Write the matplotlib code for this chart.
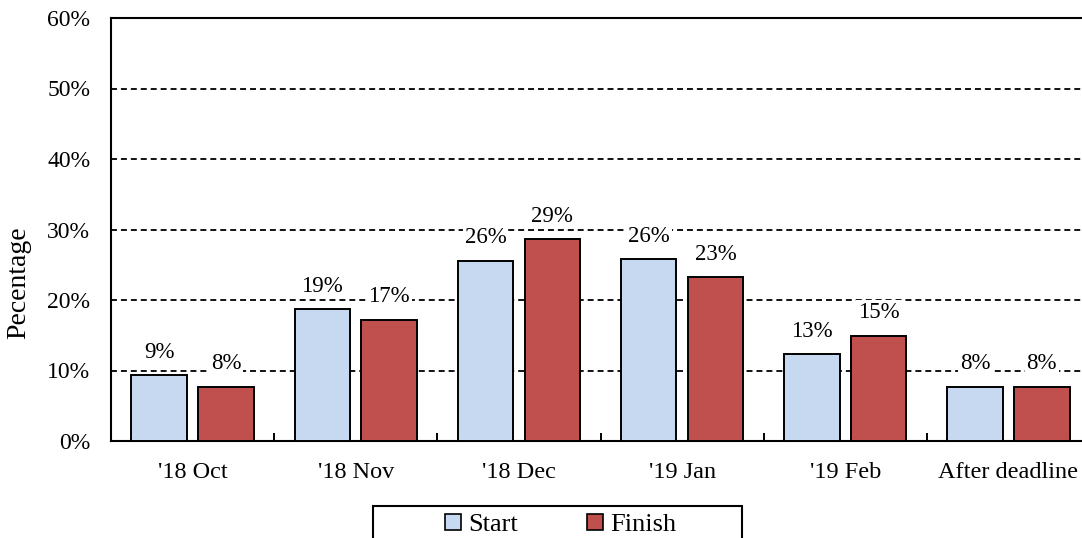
import matplotlib
matplotlib.use("Agg")
import matplotlib.pyplot as plt
from matplotlib.ticker import FuncFormatter, FixedLocator
from matplotlib.lines import Line2D
from matplotlib.patches import Rectangle
import numpy as np

categories = ["'18 Oct", "'18 Nov", "'18 Dec", "'19 Jan", "'19 Feb", "After deadline"]
start_vals = [9.3, 18.7, 25.6, 25.8, 12.3, 7.7]
finish_vals = [7.7, 17.2, 28.6, 23.2, 14.9, 7.7]
start_labels = ["9%", "19%", "26%", "26%", "13%", "8%"]
finish_labels = ["8%", "17%", "29%", "23%", "15%", "8%"]
series_names = ["Start", "Finish"]
colors = ["#C6D9F0", "#C0504D"]

plt.rcParams['font.family'] = ['Liberation Serif', 'DejaVu Serif']
plt.rcParams['font.size'] = 16

fig = plt.figure(figsize=(10.82, 5.38), dpi=100)
ax = fig.add_axes([111/1082, 97/538, 979/1082, 423/538])

x = np.arange(len(categories))
w = 0.34
off = 0.205
b1 = ax.bar(x - off, start_vals, w, color=colors[0], edgecolor='black', linewidth=1.4, zorder=3)
b2 = ax.bar(x + off, finish_vals, w, color=colors[1], edgecolor='black', linewidth=1.4, zorder=3)

for bars, labs in ((b1, start_labels), (b2, finish_labels)):
    for r, lab in zip(bars, labs):
        ax.annotate(lab, (r.get_x() + r.get_width()/2, r.get_height()),
                    xytext=(0, 9), textcoords='offset points', ha='center', va='bottom',
                    fontsize=16.5, zorder=4,
                    bbox=dict(facecolor='white', edgecolor='none', pad=1.5))

ax.set_ylim(0, 60)
ax.set_xlim(-0.5, len(categories) - 0.5)
ax.set_yticks(np.arange(0, 61, 10))
ax.yaxis.set_major_formatter(FuncFormatter(lambda v, p: f"{int(v)}%"))
ax.tick_params(axis='y', length=0, pad=15, labelsize=17)
ax.set_xticks(x)
ax.set_xticklabels(categories)
ax.tick_params(axis='x', which='major', length=0, pad=15, labelsize=17.5)
ax.xaxis.set_minor_locator(FixedLocator(np.arange(-0.5, len(categories), 1.0)))
ax.tick_params(axis='x', which='minor', direction='in', length=6, width=1.4)

ax.yaxis.grid(True, linestyle=(0, (3.3, 2.2)), color='black', linewidth=1.3, zorder=0)
ax.set_axisbelow(True)
for s in ['left', 'bottom', 'top', 'right']:
    ax.spines[s].set_linewidth(1.5)
    ax.spines[s].set_color('black')

ax.set_ylabel("Pecentage", fontsize=20)
ax.yaxis.set_label_coords(-0.081, 0.375)

handles = [Line2D([], [], marker='s', linestyle='none', markersize=11,
                  markerfacecolor=c, markeredgecolor='black', markeredgewidth=1.2) for c in colors]
leg = fig.legend(handles, series_names, loc='upper center', bbox_to_anchor=(0.517, 0.057),
                 ncol=2, frameon=False, fontsize=19,
                 handletextpad=0.2, columnspacing=2.5, borderpad=0.2, handlelength=0.8,
                 borderaxespad=0)
fig.patches.append(Rectangle((373/1082, -0.05), (742-373)/1082, 0.05 + 32/538,
                             transform=fig.transFigure, fill=False, edgecolor='black',
                             linewidth=1.5))
fig.savefig("out.png", dpi=100)
